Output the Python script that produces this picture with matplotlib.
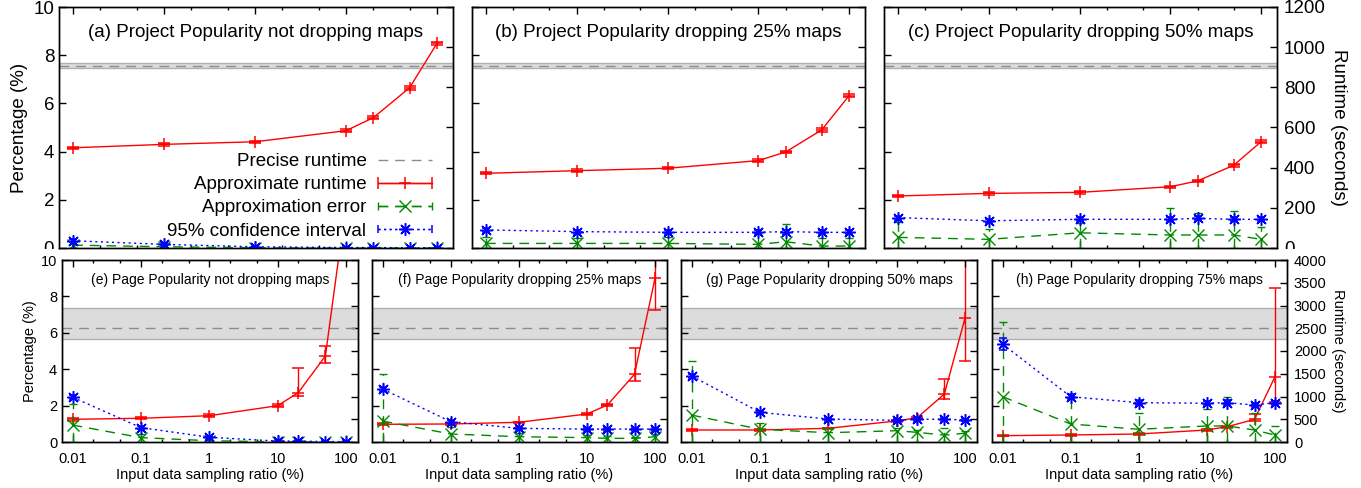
import numpy as np
import matplotlib
matplotlib.use("Agg")
import matplotlib.pyplot as plt
from matplotlib.lines import Line2D
from matplotlib.patches import Rectangle
from matplotlib.legend_handler import HandlerErrorbar
from matplotlib.container import ErrorbarContainer
from matplotlib.ticker import FixedLocator, LogLocator, NullFormatter, MultipleLocator

plt.rcParams['font.family'] = ['Liberation Sans', 'DejaVu Sans']

## Sampling ratios shared by every panel
ratios = [0.01, 0.1, 1, 10, 20, 50, 100]
ratio_ticks = [0.01, 0.1, 1, 10, 100]
ratio_labels = ["0.01", "0.1", "1", "10", "100"]

## Precise runtime (seconds) and its band
top_precise = 907
top_band = [897, 919]
bottom_precise = 2500
bottom_band = [2260, 2950]

## (a) Project Popularity not dropping maps
a_runtime    = [499, 516, 529, 584, 649, 798, 1019]
a_runtime_lo = [493, 510, 523, 577, 641, 789, 1010]
a_runtime_hi = [505, 522, 535, 591, 657, 807, 1028]
a_error      = [0.12, 0.05, 0.01, 0.0, 0.0, 0.0, 0.0]
a_error_hi   = [0.25, 0.12, 0.04, 0.02, 0.02, 0.02, 0.02]
a_ci         = [0.30, 0.15, 0.05, 0.02, 0.02, 0.01, 0.01]
a_ci_err     = [0.06, 0.04, 0.03, 0.02, 0.02, 0.01, 0.01]

## (b) Project Popularity dropping 25% maps
b_runtime    = [372, 385, 397, 435, 478, 588, 758]
b_runtime_lo = [366, 379, 391, 428, 471, 580, 750]
b_runtime_hi = [378, 391, 403, 442, 485, 596, 766]
b_error      = [0.19, 0.19, 0.19, 0.15, 0.26, 0.08, 0.08]
b_error_hi   = [0.45, 0.40, 0.45, 0.60, 1.00, 0.40, 0.40]
b_ci         = [0.75, 0.68, 0.65, 0.65, 0.68, 0.65, 0.65]
b_ci_err     = [0.08, 0.08, 0.08, 0.08, 0.08, 0.08, 0.08]

## (c) Project Popularity dropping 50% maps
c_runtime    = [259, 272, 277, 305, 334, 412, 529]
c_runtime_lo = [253, 266, 271, 299, 328, 405, 522]
c_runtime_hi = [265, 278, 283, 311, 340, 419, 536]
c_error      = [0.44, 0.36, 0.63, 0.54, 0.54, 0.54, 0.36]
c_error_hi   = [1.09, 0.78, 1.05, 1.65, 1.47, 1.55, 0.88]
c_ci         = [1.26, 1.13, 1.19, 1.19, 1.23, 1.19, 1.19]
c_ci_err     = [0.08, 0.08, 0.08, 0.08, 0.08, 0.08, 0.08]

## (e) Page Popularity not dropping maps
e_runtime    = [499, 521, 578, 798, 1084, 1890, 5230]
e_runtime_lo = [470, 495, 545, 760, 1011, 1729, 4800]
e_runtime_hi = [525, 548, 610, 835, 1620, 2117, 5600]
e_error      = [0.93, 0.24, 0.07, 0.01, 0.01, 0.0, 0.0]
e_error_hi   = [2.09, 0.45, 0.15, 0.05, 0.05, 0.02, 0.02]
e_ci         = [2.46, 0.79, 0.26, 0.05, 0.05, 0.02, 0.02]
e_ci_err     = [0.10, 0.10, 0.08, 0.05, 0.05, 0.02, 0.02]

## (f) Page Popularity dropping 25% maps
f_runtime    = [389, 396, 433, 615, 813, 1488, 3598]
f_runtime_lo = [370, 378, 415, 590, 790, 1341, 2901]
f_runtime_hi = [408, 414, 450, 640, 836, 2059, 4300]
f_error      = [1.15, 0.44, 0.29, 0.24, 0.20, 0.20, 0.29]
f_error_hi   = [3.72, 0.80, 0.50, 0.40, 0.35, 0.30, 0.45]
f_ci         = [2.91, 1.12, 0.75, 0.71, 0.71, 0.71, 0.71]
f_ci_err     = [0.10, 0.10, 0.08, 0.08, 0.08, 0.08, 0.08]

## (g) Page Popularity dropping 50% maps
g_runtime    = [264, 264, 301, 462, 534, 1055, 2719]
g_runtime_lo = [250, 250, 285, 440, 510, 945, 1780]
g_runtime_hi = [278, 278, 317, 484, 558, 1378, 4300]
g_error      = [1.48, 0.70, 0.51, 0.62, 0.53, 0.38, 0.48]
g_error_hi   = [4.45, 1.04, 0.75, 0.75, 0.65, 0.75, 0.60]
g_ci         = [3.63, 1.63, 1.26, 1.19, 1.25, 1.25, 1.21]
g_ci_err     = [0.10, 0.10, 0.08, 0.08, 0.08, 0.08, 0.08]

## (h) Page Popularity dropping 75% maps
h_runtime    = [139, 154, 176, 264, 337, 498, 1435]
h_runtime_lo = [125, 140, 160, 240, 315, 470, 886]
h_runtime_hi = [153, 168, 192, 288, 359, 620, 3378]
h_error      = [2.49, 0.99, 0.70, 0.88, 0.88, 0.66, 0.38]
h_error_hi   = [6.58, 2.49, 1.58, 1.80, 2.49, 1.58, 0.88]
h_ci         = [5.38, 2.49, 2.16, 2.13, 2.16, 2.03, 2.16]
h_ci_err     = [0.33, 0.15, 0.15, 0.12, 0.15, 0.12, 0.10]

RED = '#ff0000'
GREEN = '#008a00'
BLUE = '#0000ff'
GRAY = '#8c8c8c'
DASHED = (0, (7, 5))
DOTTED = (0, (1.5, 2.5))
STAR = (8, 2, 0)


def style_errorbars(eb, ls):
    for col in eb[2]:
        col.set_linestyle(ls)


def draw_panel(ax, title, rt, rt_lo, rt_hi, err, err_hi, ci, ci_err,
               precise, band, rt_max, fs, z=0):
    ax2 = ax.twinx()
    ax2.set_zorder(z)
    ax.set_zorder(z + 1)
    ax.patch.set_visible(False)

    # precise runtime + band (runtime axis)
    ax2.axhspan(band[0], band[1], color='#dcdcdc', lw=0)
    ax2.axhline(band[0], color='#b0b0b0', lw=1)
    ax2.axhline(band[1], color='#b0b0b0', lw=1)
    ax2.axhline(precise, color=GRAY, lw=1, ls=DASHED)

    rt = np.array(rt, dtype=float)
    ax2.errorbar(ratios, rt, yerr=[rt - np.array(rt_lo), np.array(rt_hi) - rt],
                 color=RED, lw=1, marker='+', ms=9, mew=1.1,
                 capsize=4.5, capthick=1, elinewidth=1)

    err = np.array(err, dtype=float)
    eb = ax.errorbar(ratios, err, yerr=[err, np.array(err_hi) - err],
                     color=GREEN, lw=1, ls=DASHED, marker='x', ms=8, mew=1,
                     capsize=3, capthick=1, elinewidth=1)
    style_errorbars(eb, DASHED)

    ci = np.array(ci, dtype=float)
    eb = ax.errorbar(ratios, ci, yerr=ci_err,
                     color=BLUE, lw=1, ls=DOTTED, marker=STAR, ms=9, mew=1.1,
                     capsize=3, capthick=1, elinewidth=1)
    style_errorbars(eb, DOTTED)

    ax.set_xscale('log')
    ax.set_xlim(0.007, 150)
    ax.set_ylim(0, 10)
    ax2.set_ylim(0, rt_max)

    ax.xaxis.set_major_locator(FixedLocator(ratio_ticks))
    ax.xaxis.set_minor_locator(LogLocator(base=10, subs=[2, 5]))
    ax.xaxis.set_minor_formatter(NullFormatter())
    ax.set_xticklabels(ratio_labels)
    ax.yaxis.set_major_locator(MultipleLocator(2))
    ax2.yaxis.set_major_locator(MultipleLocator(rt_max / (6 if rt_max < 2000 else 8)))

    ax.tick_params(axis='x', which='major', direction='in', top=True, bottom=True,
                   length=5, width=1, labelsize=fs, pad=7)
    ax.tick_params(axis='x', which='minor', direction='in', top=True, bottom=True,
                   length=2.5, width=1)
    ax.tick_params(axis='y', direction='in', left=True, right=False,
                   length=5, width=1, labelsize=fs)
    ax2.tick_params(axis='y', direction='in', right=True, left=False,
                    length=5, width=1, labelsize=fs, pad=5)
    for sp in ax.spines.values():
        sp.set_linewidth(1)
    for sp in ax2.spines.values():
        sp.set_linewidth(1)

    ax.text(0.5, 0.895 if rt_max < 2000 else 0.89, title, transform=ax.transAxes,
            ha='center', va='center', fontsize=fs if rt_max < 2000 else fs - 0.5)
    return ax2


fig = plt.figure(figsize=(13.61, 4.88), dpi=100)

W, H = 1361.0, 488.0


def box(x0, x1, y0, y1):
    return [x0 / W, (H - y1) / H, (x1 - x0) / W, (y1 - y0) / H]


top_fs = 13.5
bot_fs = 10.5

top_specs = [
    (box(59, 453, 7, 248), "(a) Project Popularity not dropping maps",
     a_runtime, a_runtime_lo, a_runtime_hi, a_error, a_error_hi, a_ci, a_ci_err),
    (box(472, 865, 7, 248), "(b) Project Popularity dropping 25% maps",
     b_runtime, b_runtime_lo, b_runtime_hi, b_error, b_error_hi, b_ci, b_ci_err),
    (box(884, 1277, 7, 248), "(c) Project Popularity dropping 50% maps",
     c_runtime, c_runtime_lo, c_runtime_hi, c_error, c_error_hi, c_ci, c_ci_err),
]
bottom_specs = [
    (box(62, 358, 260, 442), "(e) Page Popularity not dropping maps",
     e_runtime, e_runtime_lo, e_runtime_hi, e_error, e_error_hi, e_ci, e_ci_err),
    (box(372, 667, 260, 442), "(f) Page Popularity dropping 25% maps",
     f_runtime, f_runtime_lo, f_runtime_hi, f_error, f_error_hi, f_ci, f_ci_err),
    (box(681, 977, 260, 442), "(g) Page Popularity dropping 50% maps",
     g_runtime, g_runtime_lo, g_runtime_hi, g_error, g_error_hi, g_ci, g_ci_err),
    (box(992, 1287, 260, 442), "(h) Page Popularity dropping 75% maps",
     h_runtime, h_runtime_lo, h_runtime_hi, h_error, h_error_hi, h_ci, h_ci_err),
]

top_axes = []
for i, spec in enumerate(top_specs):
    ax = fig.add_axes(spec[0])
    ax2 = draw_panel(ax, *spec[1:], top_precise, top_band, 1200, top_fs, z=0)
    ax.tick_params(axis='x', labelbottom=False)
    if i > 0:
        ax.tick_params(axis='y', labelleft=False)
    else:
        ax.set_ylabel("Percentage (%)", fontsize=top_fs, labelpad=4)
    if i < len(top_specs) - 1:
        ax2.tick_params(axis='y', labelright=False)
    else:
        ax2.set_ylabel("Runtime (seconds)", fontsize=top_fs, rotation=-90,
                       va='bottom', labelpad=3)
    top_axes.append(ax)

for i, spec in enumerate(bottom_specs):
    ax = fig.add_axes(spec[0])
    ax2 = draw_panel(ax, *spec[1:], bottom_precise, bottom_band, 4000, bot_fs, z=3)
    ax.set_xlabel("Input data sampling ratio (%)", fontsize=bot_fs, labelpad=2)
    if i > 0:
        ax.tick_params(axis='y', labelleft=False)
    else:
        ax.set_ylabel("Percentage (%)", fontsize=bot_fs, labelpad=3)
    if i < len(bottom_specs) - 1:
        ax2.tick_params(axis='y', labelright=False)
    else:
        ax2.set_ylabel("Runtime (seconds)", fontsize=bot_fs, rotation=-90,
                       va='bottom', labelpad=3)

# the top row's "0" labels are cut at the frame bottom in the original
for x0, x1 in [(0, 58), (1278, 1361)]:
    fig.patches.append(Rectangle((x0 / W, (H - 258) / H), (x1 - x0) / W, 9 / H,
                                 transform=fig.transFigure, facecolor='white',
                                 edgecolor='none', zorder=2))

## Legend in panel (a), with horizontal error-bar samples
ax = top_axes[0]
h_precise = Line2D([], [], color=GRAY, lw=1, ls=DASHED)
h_rt = ax.errorbar([np.nan], [np.nan], xerr=[1], color=RED, lw=1, marker='+',
                   ms=9, mew=1.1, capsize=4.5, elinewidth=1)
h_err = ax.errorbar([np.nan], [np.nan], xerr=[1], color=GREEN, lw=1, ls=DASHED,
                    marker='x', ms=8, mew=1, capsize=3, elinewidth=1)
style_errorbars(h_err, DASHED)
h_ci = ax.errorbar([np.nan], [np.nan], xerr=[1], color=BLUE, lw=1, ls=DOTTED,
                   marker=STAR, ms=9, mew=1.1, capsize=3, elinewidth=1)
style_errorbars(h_ci, DOTTED)
ax.legend([h_precise, h_rt, h_err, h_ci],
          ["Precise runtime", "Approximate runtime", "Approximation error",
           "95% confidence interval"],
          handler_map={ErrorbarContainer: HandlerErrorbar(xerr_size=1.45, numpoints=1)},
          loc='lower right', bbox_to_anchor=(0.947, 0.035), borderaxespad=0,
          borderpad=0, frameon=False, markerfirst=False, fontsize=top_fs,
          handlelength=2.9, handletextpad=0.6, labelspacing=0.32, numpoints=1)

fig.savefig("out.png", dpi=100)
